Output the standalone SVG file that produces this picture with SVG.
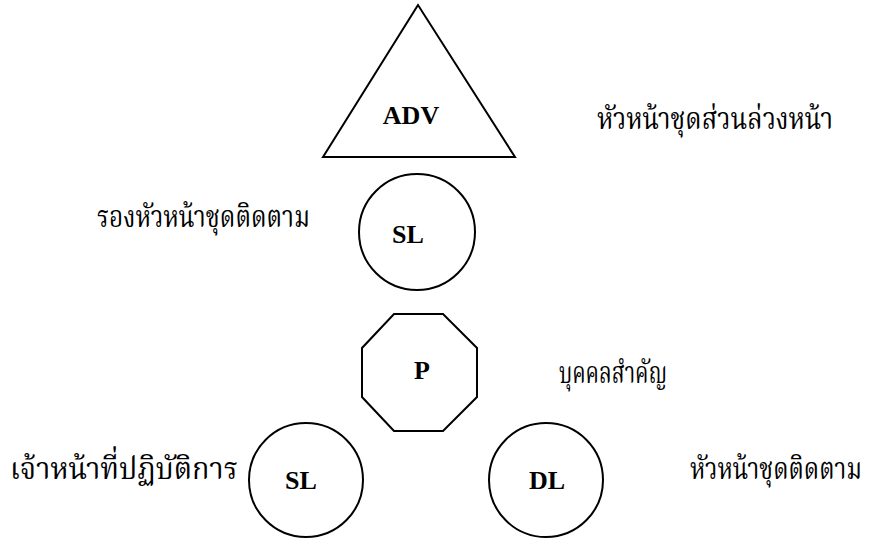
<svg xmlns="http://www.w3.org/2000/svg" width="870" height="539" viewBox="0 0 870 539">
<style>
.shape{fill:#fff;stroke:#000;stroke-width:2}
.lbl{font-family:"Liberation Serif","Times New Roman",serif;font-weight:bold;font-size:26px;fill:#000;text-anchor:middle}
.th{font-family:"Liberation Serif","Noto Serif Thai","Noto Sans Thai",serif;font-size:31px;fill:#000}
</style>
<rect width="870" height="539" fill="#fff"/>
<g id="connectors"></g>
<g id="adv">
<polygon class="shape" points="418,5 323,157 515,157"/>
<text class="lbl" x="411" y="124">ADV</text>
</g>
<g id="sl-top">
<circle class="shape" cx="417" cy="232" r="58"/>
<text class="lbl" x="408" y="243">SL</text>
</g>
<g id="p">
<polygon class="shape" points="394,314 443,314 477,348 477,397 443,431 394,431 362,397 362,348"/>
<text class="lbl" x="422" y="379">P</text>
</g>
<g id="sl-bottom">
<circle class="shape" cx="306" cy="480" r="57"/>
<text class="lbl" x="301" y="489">SL</text>
</g>
<g id="dl">
<circle class="shape" cx="546" cy="480" r="57"/>
<text class="lbl" x="547" y="489">DL</text>
</g>
<g id="labels">
<text class="th" x="597" y="129" textLength="236" lengthAdjust="spacingAndGlyphs">หัวหน้าชุดส่วนล่วงหน้า</text>
<text class="th" x="97" y="227" textLength="213" lengthAdjust="spacingAndGlyphs">รองหัวหน้าชุดติดตาม</text>
<text class="th" x="559" y="383" textLength="108" lengthAdjust="spacingAndGlyphs">บุคคลสำคัญ</text>
<text class="th" x="10" y="479" textLength="228" lengthAdjust="spacingAndGlyphs">เจ้าหน้าที่ปฏิบัติการ</text>
<text class="th" x="690" y="479" textLength="172" lengthAdjust="spacingAndGlyphs">หัวหน้าชุดติดตาม</text>
</g>
</svg>
